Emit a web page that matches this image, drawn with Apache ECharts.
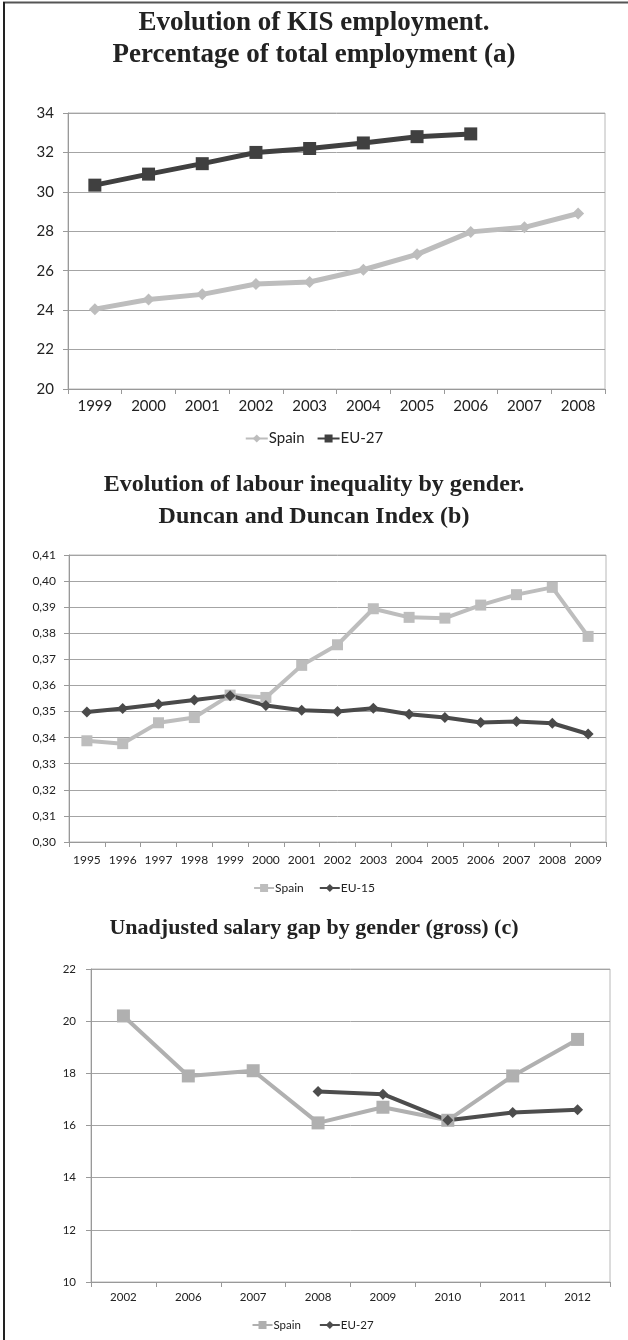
<!DOCTYPE html>
<html>
<head>
<meta charset="utf-8">
<script src="https://cdn.jsdelivr.net/npm/echarts@6/dist/echarts.min.js"></script>
<style>
  html, body { margin: 0; padding: 0; background: #fff; }
  #chart { width: 628px; height: 1340px; }
</style>
</head>
<body>
<div id="chart"></div>
<script>
// (a) KIS employment, % of total employment
const yearsA = ['1999', '2000', '2001', '2002', '2003', '2004', '2005', '2006', '2007', '2008'];
const spainA = [24.05, 24.54, 24.8, 25.33, 25.43, 26.05, 26.83, 27.97, 28.2, 28.9];
const eu27A = [30.34, 30.9, 31.43, 32.0, 32.2, 32.48, 32.8, 32.94, null, null];
const yRangeA = [20, 34, 2];

// (b) Duncan and Duncan index
const yearsB = ['1995', '1996', '1997', '1998', '1999', '2000', '2001', '2002', '2003', '2004', '2005', '2006', '2007', '2008', '2009'];
const spainB = [0.3388, 0.3377, 0.3457, 0.3477, 0.3563, 0.3554, 0.3677, 0.3756, 0.3894, 0.3861, 0.3858, 0.3908, 0.3948, 0.3976, 0.3788];
const eu15B = [0.3498, 0.3512, 0.3528, 0.3544, 0.3561, 0.3523, 0.3505, 0.3500, 0.3513, 0.3490, 0.3477, 0.3458, 0.3462, 0.3455, 0.3414];
const yRangeB = [0.30, 0.41, 0.01];

// (c) Unadjusted gender pay gap
const yearsC = ['2002', '2006', '2007', '2008', '2009', '2010', '2011', '2012'];
const spainC = [20.2, 17.9, 18.1, 16.1, 16.7, 16.2, 17.9, 19.3];
const eu27C = [null, null, null, 17.3, 17.2, 16.2, 16.5, 16.6];
const yRangeC = [10, 22, 2];

const titles = [
  'Evolution of KIS employment.\nPercentage of total employment (a)',
  'Evolution of labour inequality by gender.\nDuncan and Duncan Index (b)',
  'Unadjusted salary gap by gender (gross) (c)'
];

const LIGHT = '#bdbdbd';
const DARK = '#404040';
const GRID = '#a4a4a4';
const AXIS = '#999999';
const TXT = '#222';
const SANS = 'Lato, "Open Sans", sans-serif';

function titleOpt(text, top, size) {
  return {
    text: text, left: 'center', top: top, padding: 0,
    textStyle: { fontFamily: '"Liberation Serif", serif', fontWeight: 'bold', fontSize: size, lineHeight: 32, color: TXT }
  };
}

function xAxisOpt(gi, data, fontSize, margin) {
  return {
    gridIndex: gi, type: 'category', data: data, boundaryGap: true,
    axisLine: { lineStyle: { color: AXIS, width: 1 } },
    axisTick: { show: true, length: 5, alignWithLabel: false, lineStyle: { color: AXIS } },
    axisLabel: { color: TXT, fontFamily: SANS, fontSize: fontSize, margin: margin, interval: 0 },
    splitLine: { show: false }
  };
}

function yAxisOpt(gi, range, fontSize, margin, fmt) {
  return {
    gridIndex: gi, type: 'value', min: range[0], max: range[1], interval: range[2],
    axisLine: { show: true, lineStyle: { color: AXIS, width: 1 } },
    axisTick: { show: true, length: 5, lineStyle: { color: AXIS } },
    axisLabel: { color: TXT, fontFamily: SANS, fontSize: fontSize, margin: margin, formatter: fmt },
    splitLine: { show: true, lineStyle: { color: GRID, width: 1 } }
  };
}

function lineSeries(name, gi, data, color, symbol, size, width) {
  return {
    name: name, type: 'line', xAxisIndex: gi, yAxisIndex: gi, data: data,
    symbol: symbol, symbolSize: size, showAllSymbol: true,
    lineStyle: { color: color, width: width },
    itemStyle: { color: color, borderWidth: 0 },
    emphasis: { disabled: true },
    animation: false
  };
}

function legendOpt(names, top, fontSize, itemWidth) {
  return {
    top: top, left: 'center', itemGap: 12, itemWidth: itemWidth, itemHeight: 10, padding: 0,
    data: names,
    textStyle: { color: TXT, fontFamily: SANS, fontSize: fontSize, padding: [0, 0, 0, -4] }
  };
}

const chart = echarts.init(document.getElementById('chart'), null, { renderer: 'canvas' });

const option = {
  backgroundColor: '#fff',
  animation: false,
  title: [titleOpt(titles[0], 7, 27), titleOpt(titles[1], 469, 24), titleOpt(titles[2], 912, 22)],
  grid: [
    { left: 68, top: 113, width: 537, height: 276, show: true, borderColor: '#b8b8b8', borderWidth: 1 },
    { left: 69, top: 555, width: 537, height: 287, show: true, borderColor: '#b8b8b8', borderWidth: 1 },
    { left: 91, top: 969, width: 519, height: 313, show: true, borderColor: '#b8b8b8', borderWidth: 1 }
  ],
  xAxis: [
    xAxisOpt(0, yearsA, 15, 10),
    xAxisOpt(1, yearsB, 12, 12),
    xAxisOpt(2, yearsC, 11.5, 9)
  ],
  yAxis: [
    yAxisOpt(0, yRangeA, 15, 14, v => String(v)),
    yAxisOpt(1, yRangeB, 12, 13, v => v.toFixed(2).replace('.', ',')),
    yAxisOpt(2, yRangeC, 11.5, 15, v => String(v))
  ],
  legend: [
    legendOpt([{ name: 'Spain' }, { name: 'EU-27' }], 431, 15, 22),
    legendOpt([{ name: 'Spain ' }, { name: 'EU-15' }], 882, 12, 20),
    legendOpt([{ name: 'Spain  ' }, { name: 'EU-27 ' }], 1319, 11.5, 20)
  ],
  series: [
    lineSeries('Spain', 0, spainA, LIGHT, 'diamond', 12, 5),
    lineSeries('EU-27', 0, eu27A, DARK, 'rect', 13, 5),
    lineSeries('Spain ', 1, spainB, LIGHT, 'rect', 11, 4),
    lineSeries('EU-15', 1, eu15B, '#4a4a4a', 'diamond', 11, 4),
    lineSeries('Spain  ', 2, spainC, '#b0b0b0', 'rect', 13, 4),
    lineSeries('EU-27 ', 2, eu27C, '#4d4d4d', 'diamond', 11, 4)
  ],
  graphic: [
    { type: 'line', shape: { x1: 3, y1: 2.5, x2: 628, y2: 2.5 }, style: { stroke: '#555', lineWidth: 2 }, silent: true },
    { type: 'line', shape: { x1: 4, y1: 2, x2: 4, y2: 1340 }, style: { stroke: '#222', lineWidth: 2 }, silent: true }
  ]
};

chart.setOption(option);
</script>
</body>
</html>
